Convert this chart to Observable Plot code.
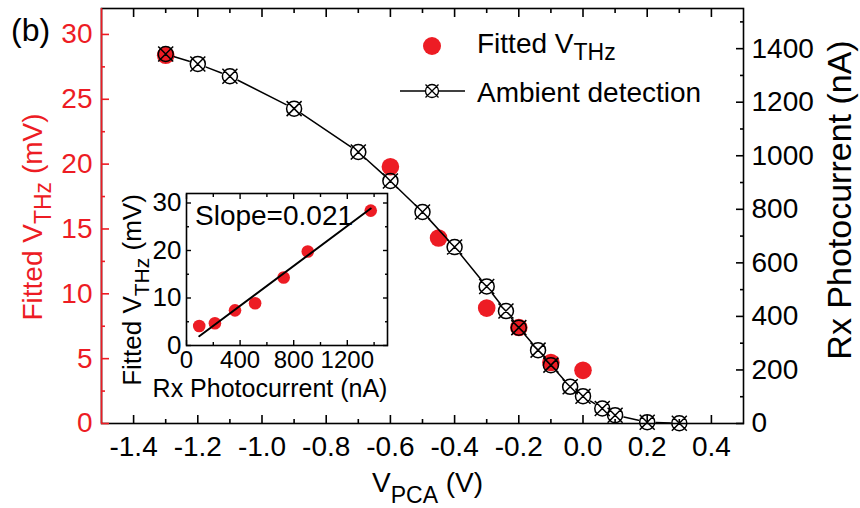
<!DOCTYPE html>
<html>
<head>
<meta charset="utf-8">
<script src="https://cdn.jsdelivr.net/npm/d3@7"></script>
<script src="https://cdn.jsdelivr.net/npm/@observablehq/plot@0.6"></script>
<style>
  html, body { margin: 0; padding: 0; background: #fff; }
  #chart { position: relative; width: 860px; height: 508px; font-family: "Liberation Sans", Arial, sans-serif; }
  #chart > svg { position: absolute; overflow: visible; }
</style>
</head>
<body>
<div id="chart"></div>
<script>
// Ambient detection: Rx photocurrent versus PCA bias
const biasV = [-1.3, -1.2, -1.1, -0.9, -0.7, -0.6, -0.5, -0.4, -0.3, -0.24, -0.2, -0.14, -0.1, -0.04, 0, 0.06, 0.1, 0.2, 0.3];
const rxCurrent = [1380, 1343, 1297, 1176, 1014, 906, 790, 659, 512, 420, 358, 274, 218, 137, 102, 56, 31, 5, 1];

// Fitted THz voltage at selected biases, and the Rx photocurrent at those points
const fitBiasV = [-1.3, -0.6, -0.45, -0.3, -0.2, -0.1, 0];
const fitVthz = [28.4, 19.8, 14.3, 8.9, 7.4, 4.7, 4.1];
const fitRxCurrent = [1375, 905, 725, 512, 362, 212, 95];
const fitSlope = 0.021;

// Axis domains and ticks
const xDomain = [-1.5, 0.5];
const vDomain = [0, 32];
const iDomain = [0, 1550];
const xTicks = [-1.4, -1.2, -1.0, -0.8, -0.6, -0.4, -0.2, 0.0, 0.2, 0.4];
const xMinor = [-1.3, -1.1, -0.9, -0.7, -0.5, -0.3, -0.1, 0.1, 0.3];
const vTicks = [0, 5, 10, 15, 20, 25, 30];
const vMinor = [2.5, 7.5, 12.5, 17.5, 22.5, 27.5];
const iTicks = [0, 200, 400, 600, 800, 1000, 1200, 1400];
const iMinor = [100, 300, 500, 700, 900, 1100, 1300, 1500];
const insetXDomain = [0, 1500];
const insetYDomain = [0, 32];
const insetXTicks = [0, 400, 800, 1200];
const insetXMinor = [200, 600, 1000, 1400];
const insetYTicks = [0, 10, 20, 30];
const insetYMinor = [5, 15, 25];

const red = "#ed1c24";
const fontFamily = "'Liberation Sans', Arial, sans-serif";

const ambient = biasV.map((v, i) => ({v, nA: rxCurrent[i]}));
const fitted = fitBiasV.map((v, i) => ({v, mV: fitVthz[i], nA: fitRxCurrent[i]}));
const segments = d3.pairs(ambient).map(([a, b]) => ({a, b}));

// least-squares intercept for the stated slope
const fitIntercept = d3.mean(fitted, d => d.mV) - fitSlope * d3.mean(fitted, d => d.nA);
const fitLine = d3.extent(fitted, d => d.nA).map(x => ({x, y: fitSlope * x + fitIntercept}));

// circle with a cross through it
const circleX = {
  draw(context, size) {
    const r = Math.sqrt(size / Math.PI);
    context.moveTo(r, 0);
    context.arc(0, 0, r, 0, 2 * Math.PI);
    context.moveTo(-r, -r); context.lineTo(r, r);
    context.moveTo(-r, r); context.lineTo(r, -r);
  }
};

const frameMargins = {marginTop: 8, marginRight: 117, marginBottom: 85, marginLeft: 101};
const baseStyle = {fontFamily, fontSize: "28px", background: "transparent", overflow: "visible", color: "black"};
const blank = () => "";
const plain = d => String(d);

// Left axis, frame, bottom/top ticks and fitted points
const mainPlot = Plot.plot({
  width: 860, height: 508, ...frameMargins,
  style: baseStyle,
  x: {domain: xDomain},
  y: {domain: vDomain},
  marks: [
    Plot.frame({stroke: "black", strokeWidth: 1.6}),
    Plot.ruleX([xDomain[0]], {stroke: red, strokeWidth: 1.6}),
    Plot.axisX({anchor: "bottom", ticks: xTicks, tickSize: 0, tickPadding: 13, tickFormat: d => d.toFixed(1), label: null}),
    Plot.axisX({anchor: "bottom", ticks: xTicks, tickSize: -8, tickFormat: blank, strokeWidth: 1.6, label: null}),
    Plot.axisX({anchor: "bottom", ticks: xMinor, tickSize: -4, tickFormat: blank, strokeWidth: 1.6, label: null}),
    Plot.axisX({anchor: "top", ticks: xTicks, tickSize: -8, tickFormat: blank, strokeWidth: 1.6, label: null}),
    Plot.axisX({anchor: "top", ticks: xMinor, tickSize: -4, tickFormat: blank, strokeWidth: 1.6, label: null}),
    Plot.axisY({anchor: "left", ticks: vTicks, tickSize: 0, tickPadding: 9, tickFormat: plain, color: red, label: null}),
    Plot.axisY({anchor: "left", ticks: vTicks, tickSize: -8, tickFormat: blank, color: red, strokeWidth: 1.6, label: null}),
    Plot.axisY({anchor: "left", ticks: vMinor, tickSize: -4, tickFormat: blank, color: red, strokeWidth: 1.6, label: null}),
    Plot.dot(fitted, {x: "v", y: "mV", r: 8.8, fill: red})
  ]
});

// Right axis and ambient detection curve
const rightPlot = Plot.plot({
  width: 860, height: 508, ...frameMargins,
  style: baseStyle,
  x: {domain: xDomain, axis: null},
  y: {domain: iDomain},
  marks: [
    Plot.axisY({anchor: "right", ticks: iTicks, tickSize: 0, tickPadding: 8, tickFormat: plain, label: null}),
    Plot.axisY({anchor: "right", ticks: iTicks, tickSize: -8, tickFormat: blank, strokeWidth: 1.6, label: null}),
    Plot.axisY({anchor: "right", ticks: iMinor, tickSize: -4, tickFormat: blank, strokeWidth: 1.6, label: null}),
    Plot.arrow(segments, {
      x1: d => d.a.v, y1: d => d.a.nA, x2: d => d.b.v, y2: d => d.b.nA,
      headLength: 0, insetStart: 9, insetEnd: 9, stroke: "black", strokeWidth: 1.5
    }),
    Plot.dot(ambient, {x: "v", y: "nA", r: 7.5, symbol: circleX, fill: "none", stroke: "black", strokeWidth: 1.5})
  ]
});

// Inset: fitted voltage versus Rx photocurrent
const insetBox = {left: 100, top: 180, width: 300, height: 220};
const insetPlot = Plot.plot({
  width: insetBox.width, height: insetBox.height,
  marginTop: 13, marginRight: 13, marginBottom: 55, marginLeft: 86,
  style: {...baseStyle, fontSize: "24px"},
  x: {domain: insetXDomain},
  y: {domain: insetYDomain},
  marks: [
    Plot.frame({stroke: "black", strokeWidth: 1.6}),
    Plot.axisX({anchor: "bottom", ticks: insetXTicks, tickSize: 0, tickPadding: 5, tickFormat: plain, label: null}),
    Plot.axisX({anchor: "bottom", ticks: insetXTicks, tickSize: -5, tickFormat: blank, strokeWidth: 1.4, label: null}),
    Plot.axisX({anchor: "bottom", ticks: insetXMinor, tickSize: -3, tickFormat: blank, strokeWidth: 1.4, label: null}),
    Plot.axisX({anchor: "top", ticks: insetXTicks, tickSize: -5, tickFormat: blank, strokeWidth: 1.4, label: null}),
    Plot.axisX({anchor: "top", ticks: insetXMinor, tickSize: -3, tickFormat: blank, strokeWidth: 1.4, label: null}),
    Plot.axisY({anchor: "left", ticks: insetYTicks, tickSize: 0, tickPadding: 5, tickFormat: plain, label: null, fontSize: 26}),
    Plot.axisY({anchor: "left", ticks: insetYTicks, tickSize: -5, tickFormat: blank, strokeWidth: 1.4, label: null}),
    Plot.axisY({anchor: "left", ticks: insetYMinor, tickSize: -3, tickFormat: blank, strokeWidth: 1.4, label: null}),
    Plot.axisY({anchor: "right", ticks: insetYTicks, tickSize: -5, tickFormat: blank, strokeWidth: 1.4, label: null}),
    Plot.axisY({anchor: "right", ticks: insetYMinor, tickSize: -3, tickFormat: blank, strokeWidth: 1.4, label: null}),
    Plot.dot(fitted, {x: "nA", y: "mV", r: 6.3, fill: red}),
    Plot.line(fitLine, {x: "x", y: "y", stroke: "black", strokeWidth: 2})
  ]
});

// Titles, legend and panel tag
const ann = d3.create("svg").attr("width", 860).attr("height", 508)
  .style("font-family", fontFamily).style("font-size", "28px");

function label(parent, {x, y, rotate = 0, anchor = "start", fill = "black", size = 28, subSize = 23, shift = 9, parts}) {
  const t = parent.append("text")
    .attr("transform", `translate(${x},${y}) rotate(${rotate})`)
    .attr("text-anchor", anchor).attr("fill", fill).attr("font-size", size);
  let down = 0;
  for (const p of parts) {
    const sub = Array.isArray(p);
    const txt = sub ? p[0] : p;
    const target = sub ? shift : 0;
    t.append("tspan").attr("dy", target - down).attr("font-size", sub ? subSize : size)
      .attr("xml:space", "preserve").text(txt);
    down = target;
  }
  return t;
}

label(ann, {x: 11, y: 41, size: 32, parts: ["(b)"]});
label(ann, {x: 42, y: 217, rotate: -90, anchor: "middle", fill: red, parts: ["Fitted V", ["THz"], " (mV)"]});
label(ann, {x: 372, y: 492, parts: ["V", ["PCA"], " (V)"], shift: 11});
label(ann, {x: 851, y: 200, rotate: -90, anchor: "middle", size: 34, parts: ["Rx Photocurrent (nA)"]});

// legend
ann.append("circle").attr("cx", 432).attr("cy", 46).attr("r", 9).attr("fill", red);
label(ann, {x: 477, y: 53, parts: ["Fitted V", ["THz"]], shift: 7});
ann.append("line").attr("x1", 400).attr("x2", 465).attr("y1", 91).attr("y2", 91).attr("stroke", "black").attr("stroke-width", 1.5);
ann.append("path").attr("transform", "translate(432,91)")
  .attr("d", d3.symbol(circleX, Math.PI * 6.5 * 6.5)())
  .attr("fill", "white").attr("stroke", "black").attr("stroke-width", 1.3);
label(ann, {x: 477, y: 102, parts: ["Ambient detection"]});

// inset annotations
label(ann, {x: 195, y: 225, parts: ["Slope=0.021"]});
label(ann, {x: 270, y: 397, anchor: "middle", size: 25, parts: ["Rx Photocurrent (nA)"]});
label(ann, {x: 141, y: 290, rotate: -90, anchor: "middle", size: 26, subSize: 21, shift: 8, parts: ["Fitted V", ["THz"], " (mV)"]});

const chart = document.getElementById("chart");
function place(node, left, top) {
  node.style.left = left + "px";
  node.style.top = top + "px";
  chart.appendChild(node);
}
place(mainPlot, 0, 0);
place(rightPlot, 0, 0);
place(insetPlot, insetBox.left, insetBox.top);
place(ann.node(), 0, 0);
</script>
</body>
</html>
